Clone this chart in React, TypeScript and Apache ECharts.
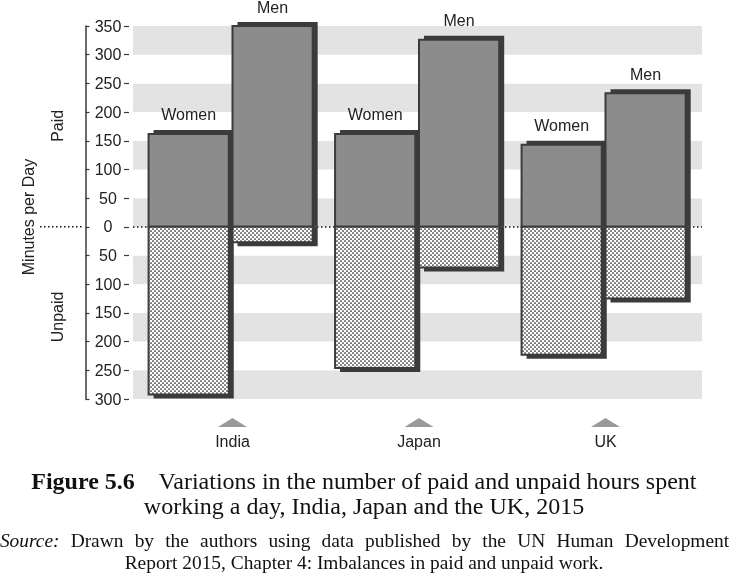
import React, { useEffect, useRef } from 'react';
import * as echarts from 'echarts';

const countries = ['India', 'Japan', 'UK'];
const womenPaid = [162, 162, 143];
const womenUnpaid = [292, 246, 223];
const menPaid = [350, 326, 233];
const menUnpaid = [27, 71, 125];
const genderLabels = ['Women', 'Men'];
const Y_MIN = -300;
const Y_MAX = 350;
const Y_STEP = 50;

const SANS = "'Liberation Sans', Arial, Helvetica, sans-serif";
const SERIF = "'Liberation Serif', 'Times New Roman', serif";
const DARK = '#3b3b3b';
const PAID = '#8c8c8c';
const BAND = '#e3e3e3';
const TEXT = '#222222';

const sourceLine1 = ['Drawn', 'by', 'the', 'authors', 'using', 'data', 'published', 'by', 'the', 'UN', 'Human', 'Development'];

export default function App() {
  const ref = useRef<HTMLDivElement>(null);

  useEffect(() => {
    document.body.style.margin = '0';
    const chart = echarts.init(ref.current!, null, { renderer: 'svg' });

    const cv = document.createElement('canvas');
    cv.width = 4;
    cv.height = 4;
    const ctx = cv.getContext('2d')!;
    ctx.fillStyle = '#ffffff';
    ctx.fillRect(0, 0, 4, 4);
    ctx.fillStyle = '#151515';
    ctx.beginPath();
    ctx.arc(1, 1, 0.85, 0, Math.PI * 2);
    ctx.fill();
    ctx.beginPath();
    ctx.arc(3, 3, 0.85, 0, Math.PI * 2);
    ctx.fill();
    const dots: any = { image: cv, repeat: 'repeat', imageWidth: 4, imageHeight: 4 };

    const makeRender = (offsetFrac: number, label: string) => (_p: any, api: any) => {
      const i = api.value(0);
      const paid = api.value(1);
      const unpaid = api.value(2);
      const [cx, y0] = api.coord([i, 0]);
      const yTop = api.coord([i, paid])[1];
      const yBot = api.coord([i, -unpaid])[1];
      const bw = api.size([1, 0])[0];
      const w = bw * 0.43;
      const x0 = cx + bw * offsetFrac;
      const sx = 5;
      const sy = 4;
      return {
        type: 'group',
        children: [
          { type: 'rect', shape: { x: x0 + sx, y: yTop - sy, width: w, height: y0 - yTop + sy }, style: { fill: DARK } },
          { type: 'rect', shape: { x: x0 + sx, y: y0, width: w, height: yBot - y0 + sy }, style: { fill: DARK } },
          { type: 'rect', shape: { x: x0, y: yTop, width: w, height: y0 - yTop }, style: { fill: PAID, stroke: DARK, lineWidth: 2 } },
          { type: 'rect', shape: { x: x0, y: y0, width: w, height: yBot - y0 }, style: { fill: dots, stroke: DARK, lineWidth: 2 } },
          {
            type: 'text',
            x: x0 + w / 2,
            y: yTop - sy - 15,
            style: { text: label, fontSize: 16, fontFamily: SANS, fill: TEXT, align: 'center', verticalAlign: 'middle' },
          },
        ],
      };
    };

    const yCommon = { type: 'value', min: Y_MIN, max: Y_MAX, interval: Y_STEP };

    chart.setOption({
      animation: false,
      textStyle: { fontFamily: SANS },
      grid: [
        { left: 133, right: 27, top: 26, bottom: 174 },
        { left: 139.25, right: 30.25, top: 26, bottom: 174 },
      ],
      xAxis: [
        { type: 'category', gridIndex: 0, data: countries, show: false },
        {
          type: 'category',
          gridIndex: 1,
          data: countries,
          axisLine: { show: false },
          axisTick: { show: false },
          axisLabel: { fontSize: 16, color: TEXT, margin: 34, fontFamily: SANS },
        },
      ],
      yAxis: [
        {
          ...yCommon,
          gridIndex: 0,
          position: 'left',
          offset: 4,
          axisLine: { show: false },
          axisTick: { show: true, length: 5, lineStyle: { color: DARK, width: 1.2 } },
          axisLabel: {
            formatter: (v: number) => String(Math.abs(v)),
            align: 'center',
            margin: 21,
            fontSize: 16,
            color: TEXT,
            fontFamily: SANS,
          },
          splitLine: { show: false },
          splitArea: { show: true, areaStyle: { color: [BAND, '#ffffff'] } },
        },
        {
          ...yCommon,
          gridIndex: 1,
          position: 'left',
          show: false,
          splitLine: { show: false },
        },
        {
          ...yCommon,
          gridIndex: 0,
          position: 'left',
          offset: 47.5,
          axisLine: { show: true, lineStyle: { color: DARK, width: 1.5 } },
          axisTick: { show: true, inside: true, length: 4, lineStyle: { color: DARK, width: 1.2 } },
          axisLabel: { show: false },
          splitLine: { show: false },
          splitArea: { show: false },
        },
      ],
      series: [
        {
          type: 'line',
          xAxisIndex: 0,
          yAxisIndex: 0,
          data: [],
          z: 1,
          silent: true,
          markLine: {
            silent: true,
            symbol: ['none', 'none'],
            label: { show: false },
            lineStyle: { color: '#111', width: 1.5, type: [1.5, 2.5] },
            data: [{ yAxis: 0 }],
          },
        },
        {
          type: 'custom',
          name: genderLabels[0],
          xAxisIndex: 1,
          yAxisIndex: 1,
          z: 5,
          clip: false,
          data: countries.map((_, i) => [i, womenPaid[i], womenUnpaid[i]]),
          renderItem: makeRender(-0.45, genderLabels[0]),
        },
        {
          type: 'custom',
          name: genderLabels[1],
          xAxisIndex: 1,
          yAxisIndex: 1,
          z: 6,
          clip: false,
          data: countries.map((_, i) => [i, menPaid[i], menUnpaid[i]]),
          renderItem: makeRender(0, genderLabels[1]),
        },
        {
          type: 'custom',
          xAxisIndex: 1,
          yAxisIndex: 1,
          z: 6,
          clip: false,
          silent: true,
          data: countries.map((_, i) => [i]),
          renderItem: (_p: any, api: any) => {
            const [cx, cy] = api.coord([api.value(0), Y_MIN]);
            return {
              type: 'polygon',
              shape: { points: [[cx - 14.5, cy + 28], [cx, cy + 19], [cx + 14.5, cy + 28]] },
              style: { fill: '#9a9a9a' },
            };
          },
        },
      ],
    });

    const y0 = chart.convertToPixel({ yAxisIndex: 0 }, 0) as number;
    const justified = '{i|Source:}{s| }' + sourceLine1.join('{s| }');
    chart.setOption({
      graphic: [
        {
          type: 'line',
          shape: { x1: 40, y1: y0, x2: 82, y2: y0 },
          style: { stroke: '#111', lineWidth: 1.5, lineDash: [1.5, 2.5] },
          silent: true,
        },
        {
          type: 'text',
          x: 28,
          y: 217,
          rotation: Math.PI / 2,
          style: { text: 'Minutes per Day', fontSize: 16, fontFamily: SANS, fill: TEXT, align: 'center', verticalAlign: 'middle' },
        },
        {
          type: 'text',
          x: 57.5,
          y: chart.convertToPixel({ yAxisIndex: 0 }, 176) as number,
          rotation: Math.PI / 2,
          style: { text: 'Paid', fontSize: 16, fontFamily: SANS, fill: TEXT, align: 'center', verticalAlign: 'middle' },
        },
        {
          type: 'text',
          x: 57.5,
          y: chart.convertToPixel({ yAxisIndex: 0 }, -157) as number,
          rotation: Math.PI / 2,
          style: { text: 'Unpaid', fontSize: 16, fontFamily: SANS, fill: TEXT, align: 'center', verticalAlign: 'middle' },
        },
        {
          type: 'text',
          x: 364,
          y: 481,
          style: {
            text: '{b|Figure 5.6}    Variations in the number of paid and unpaid hours spent',
            rich: { b: { fontWeight: 'bold', fontSize: 24, fontFamily: SERIF, fill: '#111' } },
            fontSize: 24,
            fontFamily: SERIF,
            fill: '#111',
            align: 'center',
            verticalAlign: 'middle',
          },
        },
        {
          type: 'text',
          x: 364,
          y: 506,
          style: {
            text: 'working a day, India, Japan and the UK, 2015',
            fontSize: 24,
            fontFamily: SERIF,
            fill: '#111',
            align: 'center',
            verticalAlign: 'middle',
          },
        },
        {
          type: 'text',
          x: 364.5,
          y: 540,
          style: {
            text: justified,
            rich: {
              i: { fontStyle: 'italic', fontSize: 19.4, fontFamily: SERIF, fill: '#111' },
              s: { width: 11.2, fontSize: 19.4, fontFamily: SERIF, fill: '#111' },
            },
            fontSize: 19.4,
            fontFamily: SERIF,
            fill: '#111',
            align: 'center',
            verticalAlign: 'middle',
          },
        },
        {
          type: 'text',
          x: 364,
          y: 562,
          style: {
            text: 'Report 2015, Chapter 4: Imbalances in paid and unpaid work.',
            fontSize: 19.4,
            fontFamily: SERIF,
            fill: '#111',
            align: 'center',
            verticalAlign: 'middle',
          },
        },
      ],
    });

    return () => chart.dispose();
  }, []);

  return <div ref={ref} style={{ position: 'fixed', left: 0, top: 0, width: 729, height: 573 }} />;
}
